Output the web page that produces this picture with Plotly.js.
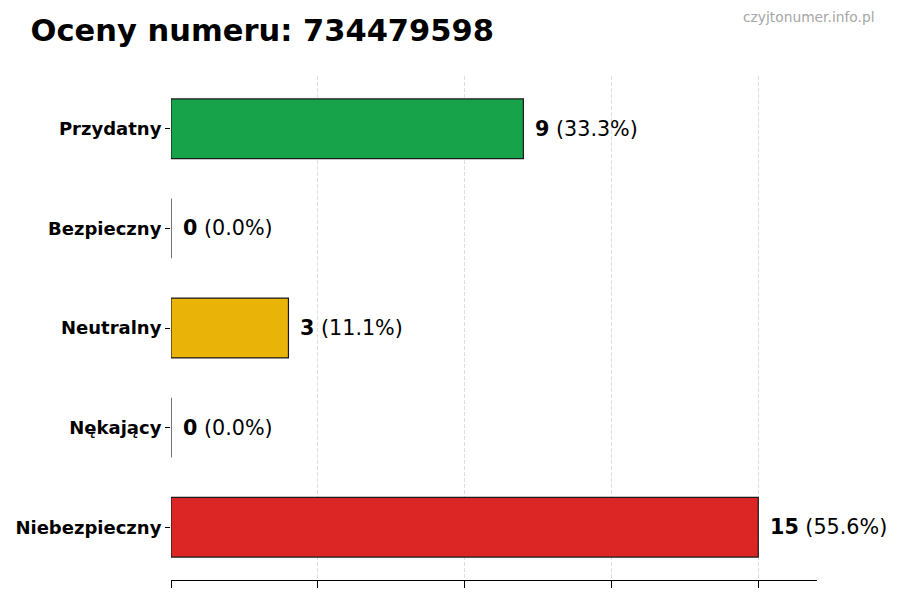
<!DOCTYPE html>
<html>
<head>
<meta charset="utf-8">
<script src="https://cdn.plot.ly/plotly-3.0.1.min.js"></script>
<style>
  html, body { margin: 0; padding: 0; background: #fff; }
  #chart { width: 900px; height: 600px; }
</style>
</head>
<body>
<div id="chart"></div>
<script>
// Ratings for the phone number, top to bottom
const categories = ['Przydatny', 'Bezpieczny', 'Neutralny', 'Nękający', 'Niebezpieczny'];
const counts = [9, 0, 3, 0, 15];
const barColors = ['#16a34a', '#16a34a', '#eab308', '#dc2626', '#dc2626'];
const gridTicks = [0, 3.75, 7.5, 11.25, 15];

const total = counts.reduce((a, b) => a + b, 0);
const font = 'DejaVu Sans, sans-serif';

const trace = {
  type: 'bar',
  orientation: 'h',
  y: categories,
  x: counts,
  width: 0.6,
  marker: {
    color: barColors,
    line: { color: '#1a1a1a', width: 1.2 }
  },
  hoverinfo: 'skip'
};

// value labels to the right of each bar
const annotations = categories.map((c, i) => ({
  x: counts[i],
  y: c,
  xref: 'x',
  yref: 'y',
  xanchor: 'left',
  yanchor: 'middle',
  xshift: 10,
  showarrow: false,
  text: '<b>' + counts[i] + '</b> (' + (counts[i] / total * 100).toFixed(1) + '%)',
  font: { family: font, size: 20.7, color: '#000' }
}));

annotations.push({
  xref: 'paper', yref: 'paper',
  x: 1.093, y: 1.117,
  xanchor: 'right', yanchor: 'middle',
  showarrow: false,
  text: 'czyjtonumer.info.pl',
  font: { family: font, size: 13.8, color: '#a6a6a6' }
});

const layout = {
  width: 900,
  height: 600,
  paper_bgcolor: '#fff',
  plot_bgcolor: '#fff',
  margin: { l: 171, r: 83, t: 76, b: 20 },
  showlegend: false,
  title: {
    text: '<b>Oceny numeru: 734479598</b>',
    font: { family: font, size: 30.5, color: '#000' },
    x: 0.034, xanchor: 'left',
    y: 0.95, yanchor: 'middle'
  },
  xaxis: {
    range: [0, 16.5],
    tickvals: gridTicks,
    showticklabels: false,
    ticks: 'outside',
    ticklen: 7,
    tickcolor: '#000',
    showline: true,
    linecolor: '#000',
    linewidth: 1,
    showgrid: true,
    gridcolor: '#d6d6d6',
    griddash: '4px,2px',
    gridwidth: 0.8,
    zeroline: false,
    fixedrange: true
  },
  yaxis: {
    autorange: false,
    range: [4.53, -0.53],
    categoryorder: 'array',
    categoryarray: categories,
    ticks: 'outside',
    ticklen: 5,
    tickcolor: '#000',
    showline: false,
    showgrid: false,
    zeroline: false,
    tickfont: { family: font, size: 18, color: '#000', weight: 'bold' },
    fixedrange: true
  },
  annotations: annotations
};

Plotly.newPlot('chart', [trace], layout, { displayModeBar: false, staticPlot: true });
</script>
</body>
</html>
